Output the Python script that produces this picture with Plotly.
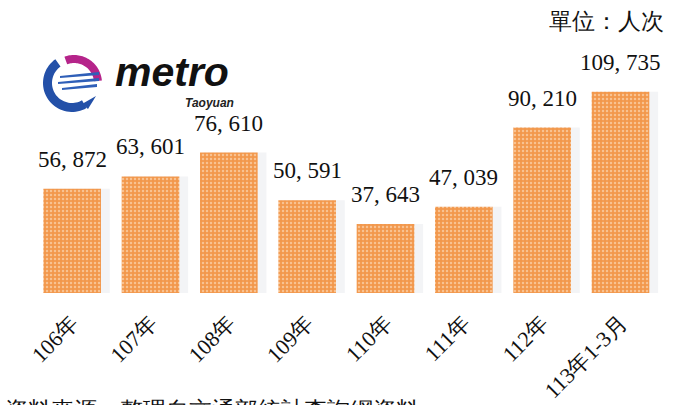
import numpy as np
import plotly.graph_objects as go

# Passenger counts per year (unit: person-trips)
years = ["106年", "107年", "108年", "109年", "110年", "111年", "112年", "113年1-3月"]
counts = [56872, 63601, 76610, 50591, 37643, 47039, 90210, 109735]

unit_label = "單位：人次"
source_note = "資料來源：整理自交通部統計查詢網資料"

W, H = 675, 405
M_L, M_R, M_T, M_B = 33, 12, 73, 112
PW, PH = W - M_L - M_R, H - M_T - M_B
Y_MAX = 120000


def px(x):
    return (x - M_L) / PW


def py(y):
    return (H - M_B - y) / PH


def poly(points):
    pts = [f"{px(x):.5f},{py(y):.5f}" for x, y in points]
    return "M " + " L ".join(pts) + " Z"


def ring(cx, cy, r_out, r_in, a0, a1, n=40):
    t = np.radians(np.linspace(a0, a1, n))
    outer = [(cx + r_out * np.cos(a), cy - r_out * np.sin(a)) for a in t]
    inner = [(cx + r_in * np.cos(a), cy - r_in * np.sin(a)) for a in t[::-1]]
    return outer + inner


serif = "Liberation Serif"

fig = go.Figure()

# faint soft shadow to the right of each bar
fig.add_trace(go.Bar(
    x=years, y=counts, offset=-0.34, width=0.82,
    marker=dict(color="rgba(200,206,214,0.22)", line=dict(width=0)),
    hoverinfo="skip", showlegend=False,
))

fig.add_trace(go.Bar(
    x=years, y=counts, offset=-0.368, width=0.736,
    marker=dict(
        color="#F29A50",
        line=dict(width=0),
        pattern=dict(shape=".", bgcolor="#F2984C", fgcolor="#FFEBD6",
                     size=4, solidity=0.3, fillmode="overlay"),
    ),
    showlegend=False,
))

annotations = []
for cat, v in zip(years, counts):
    annotations.append(dict(
        x=cat, y=v, xref="x", yref="y", yanchor="bottom", yshift=15,
        text=f"{v:,}".replace(",", ", "), showarrow=False,
        font=dict(family=serif, size=23, color="#111"),
    ))

annotations += [
    dict(x=px(666), y=py(21), xref="paper", yref="paper", xanchor="right", yanchor="middle",
         text=unit_label, showarrow=False,
         font=dict(family=serif, size=23, color="#111")),
    dict(x=px(3), y=py(396), xref="paper", yref="paper", xanchor="left", yanchor="top",
         text=source_note, showarrow=False,
         font=dict(family=serif, size=23, color="#111")),
    dict(x=px(172), y=py(72), xref="paper", yref="paper", xanchor="center", yanchor="middle",
         text="<b><i>metro</i></b>", showarrow=False,
         font=dict(family="Liberation Sans, Arial, sans-serif", size=41, color="#111")),
    dict(x=px(209), y=py(103), xref="paper", yref="paper", xanchor="center", yanchor="middle",
         text="<b><i>Taoyuan</i></b>", showarrow=False,
         font=dict(family="Liberation Sans, Arial, sans-serif", size=12, color="#222")),
]

# logo emblem: blue crescent, magenta arc, blue stripes
shapes = [
    dict(type="path", xref="paper", yref="paper", path=poly(ring(72, 83, 29, 20, 125, 300)),
         fillcolor="#2350A8", line=dict(width=0)),
    dict(type="path", xref="paper", yref="paper",
         path=poly([(82, 104), (96, 96), (88, 109)]),
         fillcolor="#2350A8", line=dict(width=0)),
    dict(type="path", xref="paper", yref="paper", path=poly(ring(74, 83, 28, 20, 5, 110)),
         fillcolor="#B5248A", line=dict(width=0)),
]
for y0, x0, x1 in [(74, 60, 99), (80, 58, 99), (86, 62, 97)]:
    shapes.append(dict(type="path", xref="paper", yref="paper",
                       path=poly([(x0, y0 + 2), (x1, y0 - 2), (x1, y0 + 1), (x0, y0 + 4)]),
                       fillcolor="#2F5FB8", line=dict(width=0)))

fig.update_layout(
    width=W, height=H,
    margin=dict(l=M_L, r=M_R, t=M_T, b=M_B, autoexpand=False),
    paper_bgcolor="white", plot_bgcolor="white",
    bargap=0.264,
    xaxis=dict(showline=False, showgrid=False, zeroline=False, ticks="",
               tickangle=-45, ticklabelstandoff=12, automargin=False,
               tickfont=dict(family=serif, size=22, color="#111")),
    yaxis=dict(visible=False, range=[0, Y_MAX], automargin=False),
    annotations=annotations,
    shapes=shapes,
)

fig.write_html("out.html")
